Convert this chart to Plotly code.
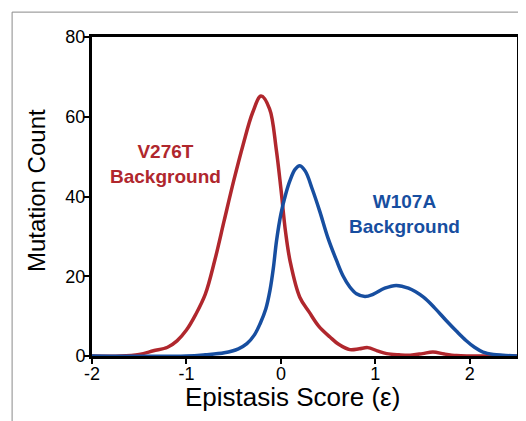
import plotly.graph_objects as go

# V276T background curve
red_x = [-2.0, -1.7, -1.5, -1.35, -1.2, -1.1, -1.0, -0.9, -0.8, -0.7, -0.6, -0.5, -0.4, -0.3,
         -0.21, -0.12, -0.05, 0.0, 0.05, 0.1, 0.2, 0.3, 0.4, 0.52, 0.62, 0.73, 0.83, 0.92,
         1.02, 1.12, 1.25, 1.37, 1.5, 1.61, 1.73, 1.86, 2.0, 2.5]
red_y = [0.0, 0.0, 0.4, 1.3, 2.2, 3.8, 6.5, 10.5, 15.5, 24.0, 34.0, 43.9, 53.0, 61.0,
         65.2, 62.0, 52.0, 42.0, 31.0, 23.5, 14.75, 11.0, 7.5, 4.75, 2.8, 1.6, 1.8, 2.1,
         1.3, 0.6, 0.3, 0.2, 0.6, 1.0, 0.5, 0.1, 0.0, 0.0]

# W107A background curve
blue_x = [-2.0, -1.0, -0.8, -0.6, -0.45, -0.36, -0.28, -0.22, -0.16, -0.116, -0.08, -0.046,
          0.0, 0.05, 0.095, 0.15, 0.20, 0.26, 0.33, 0.41, 0.5, 0.59, 0.66, 0.73, 0.8, 0.89,
          0.98, 1.1, 1.22, 1.35, 1.51, 1.63, 1.75, 1.86, 1.96, 2.05, 2.14, 2.25, 2.35, 2.5]
blue_y = [0.0, 0.0, 0.3, 0.8, 1.8, 3.1, 5.3, 8.1, 11.8, 16.4, 22.0, 28.9,
          35.6, 40.5, 43.9, 46.8, 47.7, 46.3, 42.0, 36.4, 29.5, 23.9, 20.0, 17.3, 15.6, 14.9,
          15.5, 17.0, 17.7, 17.0, 14.75, 12.0, 8.9, 6.2, 3.9, 2.2, 1.0, 0.4, 0.2, 0.0]

x_ticks = [-2, -1, 0, 1, 2]
y_ticks = [0, 20, 40, 60, 80]

RED = "#B0272D"
BLUE = "#174EA0"

fig = go.Figure()
fig.add_trace(go.Scatter(x=red_x, y=red_y, mode="lines",
                         line=dict(color=RED, width=3.5, shape="spline", smoothing=1.0)))
fig.add_trace(go.Scatter(x=blue_x, y=blue_y, mode="lines",
                         line=dict(color=BLUE, width=3.5, shape="spline", smoothing=1.0)))

font = "Liberation Sans, Arial, sans-serif"
fig.add_annotation(x=-1.22, y=48.2, xref="x", yref="y", showarrow=False,
                   text="<b>V276T<br>Background</b>",
                   font=dict(family=font, size=19, color=RED), align="center")
fig.add_annotation(x=1.31, y=35.7, xref="x", yref="y", showarrow=False,
                   text="<b>W107A<br>Background</b>",
                   font=dict(family=font, size=19, color=BLUE), align="center")

# axis titles
fig.add_annotation(x=0.4706, y=-0.1285, xref="paper", yref="paper", showarrow=False,
                   text="Epistasis Score (ε)", font=dict(family=font, size=26, color="black"),
                   xanchor="center", yanchor="middle")
fig.add_annotation(x=-0.1318, y=0.52, xref="paper", yref="paper", showarrow=False,
                   text="Mutation Count", textangle=-90,
                   font=dict(family=font, size=24, color="black"),
                   xanchor="center", yanchor="middle")

# gray panel frame lines (top and left)
fig.add_shape(type="line", xref="paper", yref="paper", x0=-0.188, x1=1.05, y0=1.078, y1=1.078,
              line=dict(color="#8a8a8a", width=1))
fig.add_shape(type="line", xref="paper", yref="paper", x0=-0.188, x1=-0.188, y0=1.078, y1=-0.3,
              line=dict(color="#8a8a8a", width=1))

fig.update_layout(
    width=518, height=413,
    margin=dict(l=84, r=9, t=29, b=65, autoexpand=False),
    paper_bgcolor="white", plot_bgcolor="white",
    showlegend=False,
    font=dict(family=font, color="black"),
)
fig.update_xaxes(range=[-2, 2.5], tickvals=x_ticks, ticktext=[str(v) for v in x_ticks],
                 showgrid=False, zeroline=False, showline=True, linecolor="black", linewidth=3,
                 mirror=True, ticks="outside", ticklen=5, tickwidth=1.5, tickcolor="black",
                 tickfont=dict(size=18), automargin=False, ticklabelstandoff=-6)
fig.update_yaxes(range=[0, 80], tickvals=y_ticks, ticktext=[str(v) for v in y_ticks],
                 showgrid=False, zeroline=False, showline=True, linecolor="black", linewidth=3,
                 mirror=True, ticks="outside", ticklen=5, tickwidth=1.5, tickcolor="black",
                 tickfont=dict(size=18), automargin=False, ticklabelstandoff=-5)

fig.write_html("out.html")
